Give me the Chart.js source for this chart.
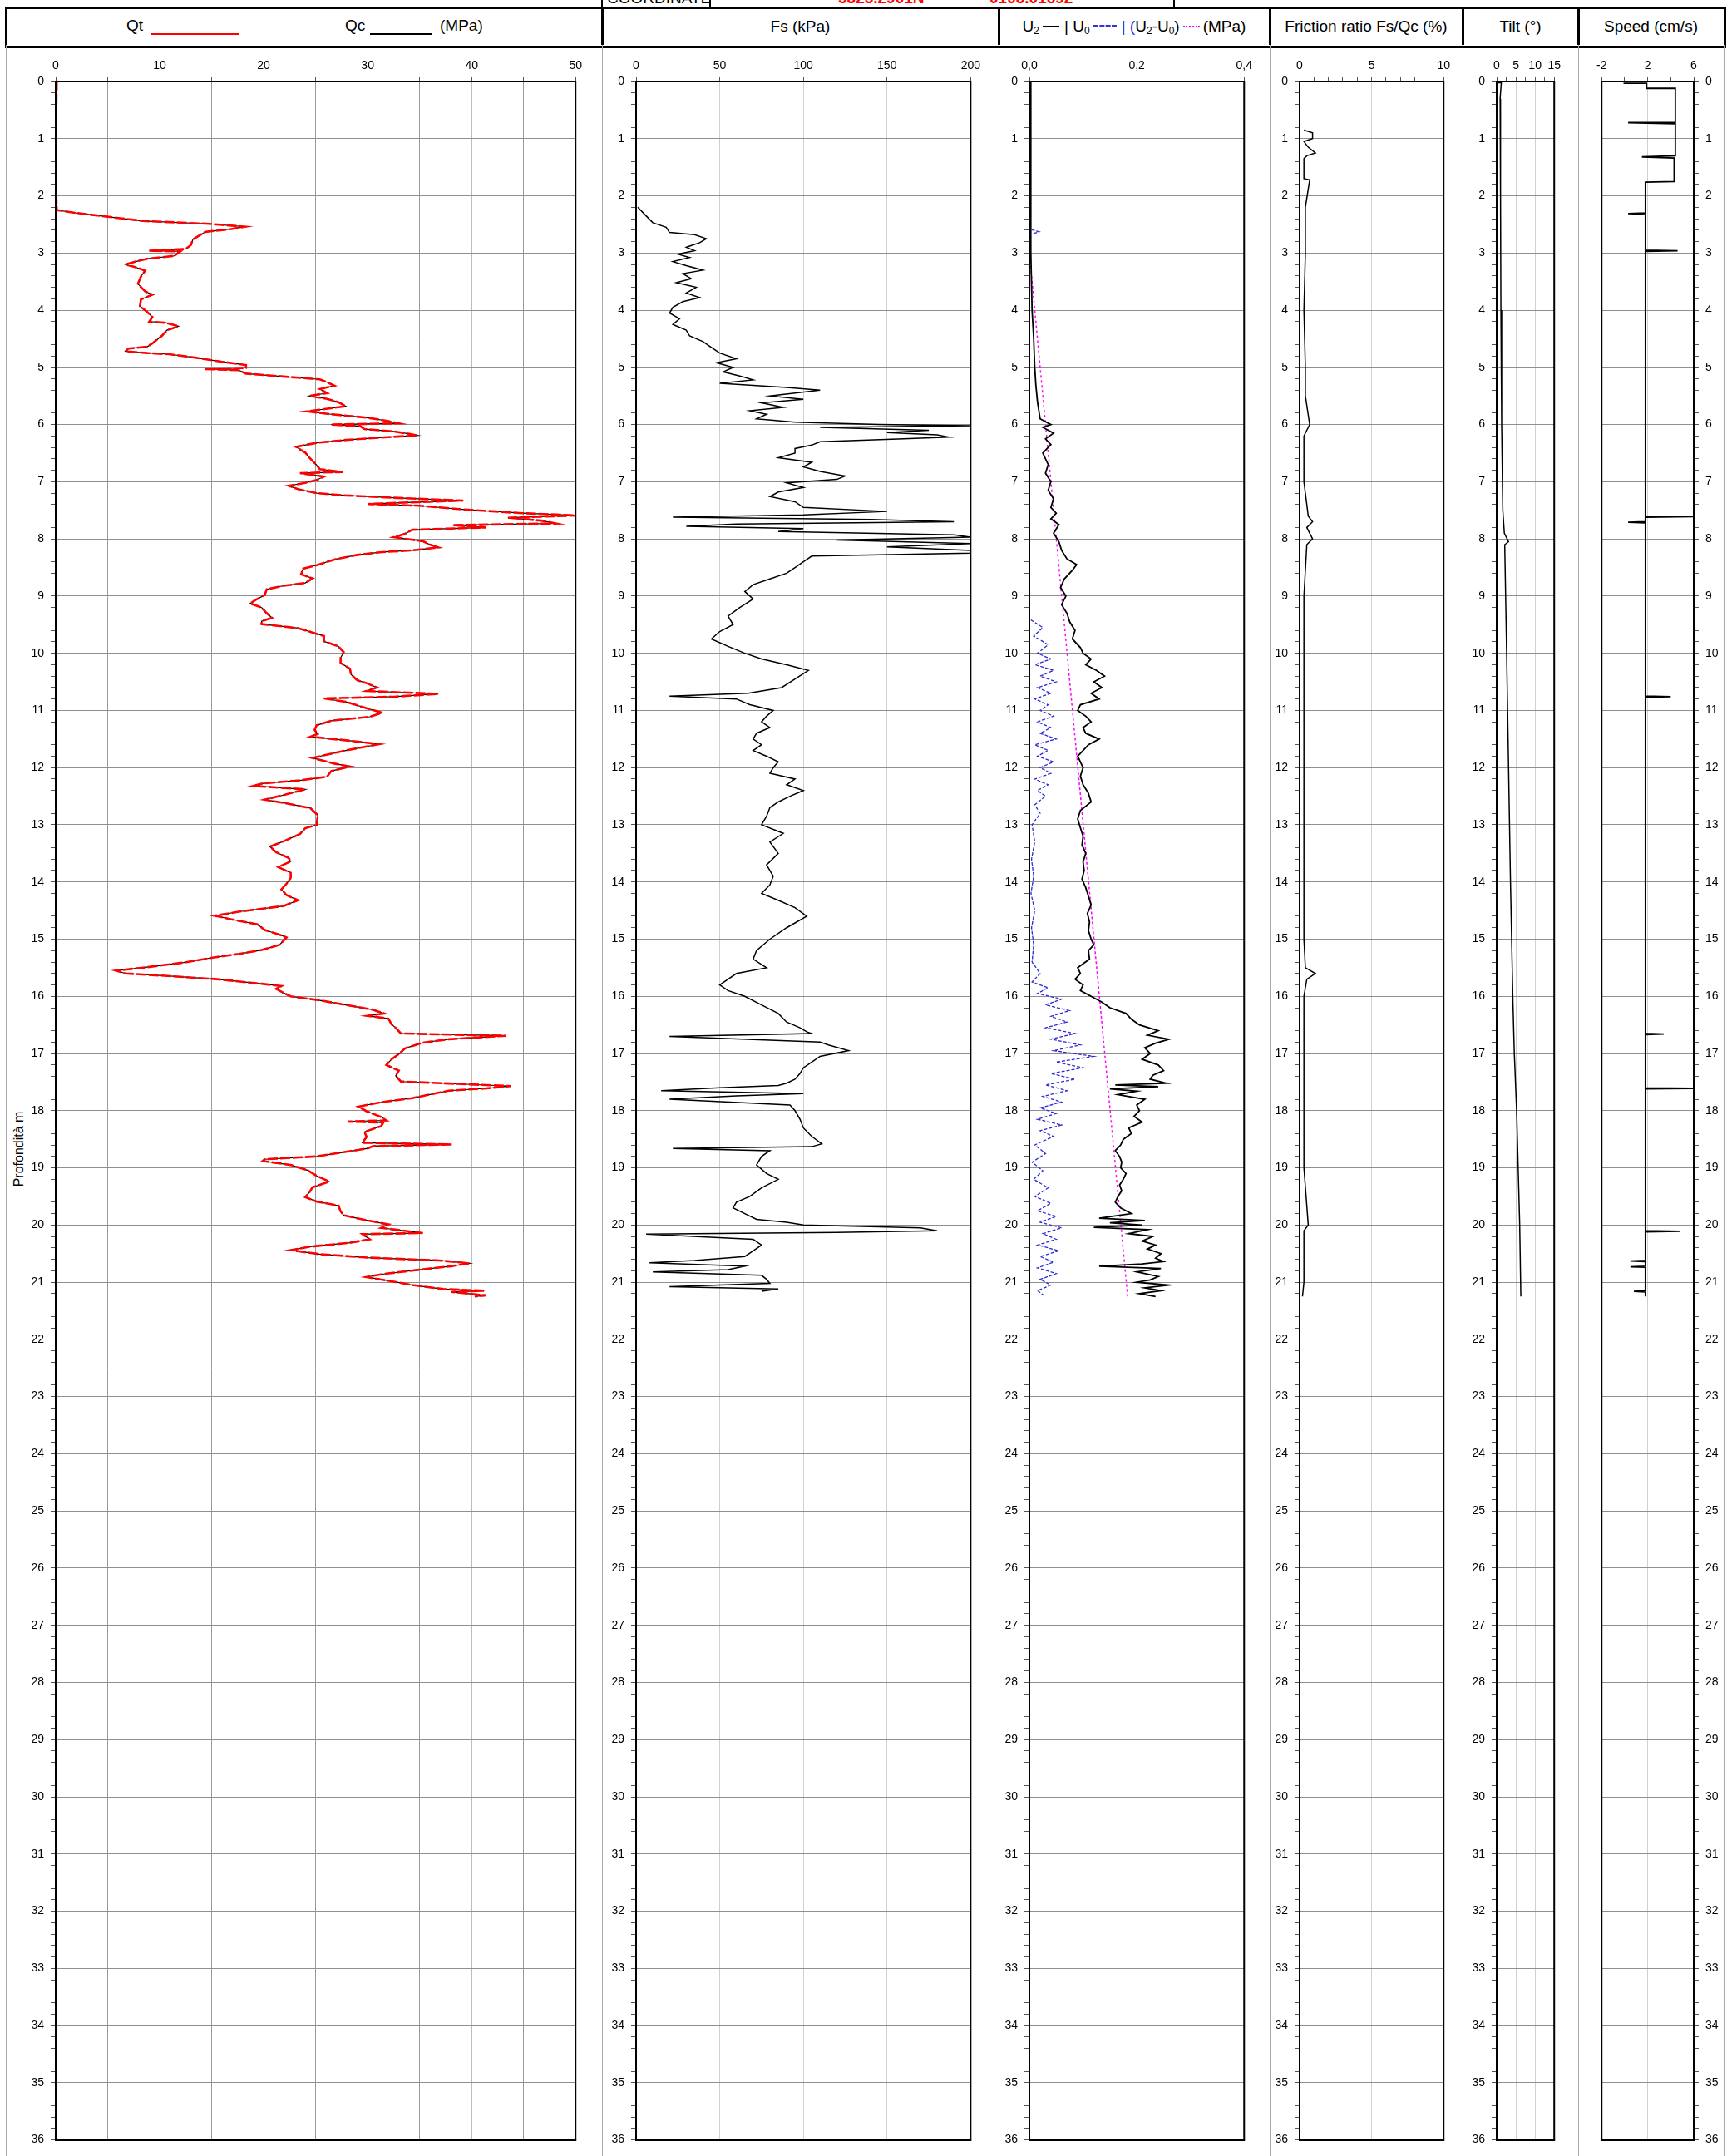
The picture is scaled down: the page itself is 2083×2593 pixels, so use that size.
<!DOCTYPE html>
<html>
<head>
<meta charset="utf-8">
<title>CPTU</title>
<script src="https://cdn.jsdelivr.net/npm/chart.js@4.4.1/dist/chart.umd.min.js"></script>
<style>
  html, body { margin: 0; padding: 0; background: #fff; }
  body { width: 2083px; height: 2593px; position: relative; overflow: hidden;
         font-family: "Liberation Sans", Arial, sans-serif; color: #000; }
  canvas { position: absolute; }
  .vline { position: absolute; width: 0; }
  .hcell { position: absolute; top: 9px; height: 45px; display: flex; align-items: center;
           justify-content: center; font-size: 19px; white-space: nowrap; }
  .txt { position: absolute; white-space: nowrap; font-size: 19px; line-height: 22px; }
  sub { font-size: 12px; vertical-align: -3px; line-height: 0; }
  .sw { display: inline-block; vertical-align: middle; margin: 0 6px 0 4px; }
</style>
</head>
<body>

<!-- title strip -->
<div class="txt" style="left:730px; top:-13px;">COORDINATE</div>
<div class="txt" style="left:1008px; top:-13px; color:#ff0000; font-weight:bold;">5325.2901N</div>
<div class="txt" style="left:1190px; top:-13px; color:#ff0000; font-weight:bold;">0103.01692</div>
<div class="vline" style="left:723px; top:0; height:9px; border-left:2px solid #000;"></div>
<div class="vline" style="left:853px; top:0; height:9px; border-left:2px solid #000;"></div>
<div class="vline" style="left:1411px; top:0; height:9px; border-left:2px solid #000;"></div>

<!-- header band -->
<div style="position:absolute; left:6px; top:8px; width:2064px; height:44px; border:3px solid #000;"></div>
<div class="vline" style="left:723px; top:9px; height:45px; border-left:3px solid #000;"></div>
<div class="vline" style="left:1200px; top:9px; height:45px; border-left:3px solid #000;"></div>
<div class="vline" style="left:1526px; top:9px; height:45px; border-left:3px solid #000;"></div>
<div class="vline" style="left:1758px; top:9px; height:45px; border-left:3px solid #000;"></div>
<div class="vline" style="left:1897px; top:9px; height:45px; border-left:3px solid #000;"></div>

<!-- panel separators -->
<div class="vline" style="left:7px; top:54px; height:2539px; border-left:1.5px solid #a8a8a8;"></div>
<div class="vline" style="left:724px; top:54px; height:2539px; border-left:1.5px solid #a8a8a8;"></div>
<div class="vline" style="left:1201px; top:54px; height:2539px; border-left:1.5px solid #a8a8a8;"></div>
<div class="vline" style="left:1527px; top:54px; height:2539px; border-left:1.5px solid #a8a8a8;"></div>
<div class="vline" style="left:1759px; top:54px; height:2539px; border-left:1.5px solid #a8a8a8;"></div>
<div class="vline" style="left:1898px; top:54px; height:2539px; border-left:1.5px solid #a8a8a8;"></div>
<div class="vline" style="left:2073px; top:54px; height:2539px; border-left:1.5px solid #a8a8a8;"></div>

<!-- column titles -->
<div class="txt" style="left:152px; top:20px;">Qt</div>
<div style="position:absolute; left:182px; top:40px; width:105px; height:0; border-top:2px solid #ff0000;"></div>
<div class="txt" style="left:415px; top:20px;">Qc</div>
<div style="position:absolute; left:445px; top:40px; width:74px; height:0; border-top:2px solid #000;"></div>
<div class="txt" style="left:529px; top:20px;">(MPa)</div>

<div class="hcell" style="left:724px; width:477px;">Fs (kPa)</div>
<div class="hcell" style="left:1201px; width:326px;">
  <span>U<sub>2</sub></span>
  <span class="sw" style="width:20px; border-top:2px solid #000;"></span>
  <span>| U<sub>0</sub></span>
  <span class="sw" style="width:28px; border-top:3px dashed #3333dd;"></span>
  <span style="color:#3333dd;">|&nbsp;(</span><span>U<sub>2</sub>-U<sub>0</sub>)</span>
  <span class="sw" style="width:20px; border-top:2px dotted #ff00ff; margin-right:4px;"></span>
  <span>(MPa)</span>
</div>
<div class="hcell" style="left:1527px; width:232px;">Friction ratio Fs/Qc (%)</div>
<div class="hcell" style="left:1759px; width:139px;">Tilt (°)</div>
<div class="hcell" style="left:1898px; width:175px;">Speed (cm/s)</div>

<div class="txt" style="left:23px; top:1382px; font-size:16px; transform:translate(-50%,-50%) rotate(-90deg); transform-origin:center;">Profondità m</div>

<canvas id="cQt"></canvas>
<canvas id="cFs"></canvas>
<canvas id="cU"></canvas>
<canvas id="cFr"></canvas>
<canvas id="cTilt"></canvas>
<canvas id="cSpeed"></canvas>

<script>
// ---- depth profile data (depth in m) ----

// Corrected cone resistance Qt and cone resistance Qc (MPa)
const qtDepth = [0.00,0.50,1.00,1.50,2.00,2.25,2.30,2.44,2.49,2.54,2.58,2.63,2.76,2.86,2.93,2.96,2.97,3.05,3.10,3.15,3.20,3.25,3.31,3.41,3.54,3.67,3.73,3.81,3.93,4.03,4.12,4.20,4.22,4.28,4.35,4.45,4.58,4.64,4.67,4.72,4.75,4.77,4.83,4.90,4.96,5.01,5.03,5.05,5.11,5.16,5.21,5.26,5.32,5.38,5.45,5.50,5.55,5.61,5.68,5.74,5.77,5.82,5.88,5.94,5.98,6.00,6.03,6.08,6.12,6.16,6.19,6.23,6.27,6.32,6.39,6.49,6.58,6.71,6.78,6.83,6.85,6.91,6.97,7.02,7.07,7.13,7.20,7.24,7.28,7.33,7.36,7.39,7.42,7.49,7.55,7.59,7.63,7.68,7.73,7.76,7.80,7.84,7.91,7.97,8.04,8.10,8.15,8.20,8.23,8.28,8.36,8.46,8.52,8.62,8.69,8.77,8.82,8.88,8.98,9.07,9.13,9.20,9.30,9.38,9.44,9.49,9.56,9.62,9.70,9.79,9.88,9.98,10.08,10.17,10.27,10.37,10.47,10.53,10.60,10.66,10.71,10.76,10.79,10.85,10.95,11.04,11.11,11.18,11.26,11.34,11.41,11.46,11.53,11.59,11.70,11.83,11.93,11.98,12.06,12.16,12.22,12.28,12.32,12.38,12.48,12.56,12.64,12.71,12.83,13.00,13.06,13.16,13.29,13.38,13.48,13.58,13.64,13.74,13.84,13.93,14.03,14.13,14.23,14.32,14.42,14.52,14.59,14.68,14.74,14.84,14.92,14.97,15.03,15.10,15.19,15.26,15.32,15.41,15.49,15.55,15.60,15.65,15.70,15.78,15.82,15.87,15.94,16.00,16.07,16.15,16.23,16.30,16.34,16.39,16.49,16.55,16.65,16.69,16.75,16.81,16.91,17.01,17.10,17.20,17.30,17.39,17.49,17.57,17.61,17.65,17.72,17.78,17.85,17.93,18.01,18.11,18.17,18.19,18.21,18.27,18.37,18.46,18.56,18.59,18.62,18.66,18.72,18.80,18.85,18.88,18.95,19.04,19.14,19.24,19.34,19.43,19.51,19.59,19.66,19.76,19.83,19.92,19.99,20.05,20.14,20.16,20.25,20.31,20.38,20.44,20.51,20.57,20.62,20.67,20.72,20.79,20.86,20.91,20.99,21.05,21.12,21.15,21.17,21.23,21.25];
const qtMPa   = [0.1,0.05,0.05,0.05,0.05,0.1,2.0,8.4,14.8,18.2,16.9,14.4,13.2,13.0,12.5,9.0,12.0,11.4,8.8,7.7,6.7,7.7,8.6,8.2,7.9,8.6,9.3,8.2,8.1,8.8,9.3,9.0,10.6,11.8,10.7,10.2,9.3,8.8,7.0,6.7,8.8,10.9,13.4,15.9,18.3,18.3,14.4,17.6,18.3,21.9,25.4,26.1,26.8,25.4,26.1,24.4,26.1,27.2,27.9,25.4,24.2,26.5,30.0,32.0,33.0,26.5,29.3,29.7,32.5,33.9,34.8,31.1,27.9,25.1,23.1,24.0,24.4,25.1,25.4,27.6,23.5,25.8,25.1,24.0,22.4,23.3,25.1,27.9,32.5,39.2,34.3,30.0,35.0,39.6,44.9,50.2,43.5,46.7,48.1,38.2,41.4,34.3,33.6,32.5,35.3,36.0,36.8,34.3,31.4,29.0,26.8,25.1,23.8,23.6,24.7,24.0,21.9,20.3,20.1,19.2,18.7,19.8,20.3,20.8,19.8,19.8,23.3,24.4,25.8,25.8,27.2,27.7,27.4,27.4,28.3,28.4,29.0,30.0,30.9,29.9,36.8,32.5,25.8,27.9,29.7,31.4,30.2,26.5,25.1,24.9,25.2,24.5,28.3,31.1,27.9,24.7,26.8,28.3,26.5,26.1,23.6,19.8,19.0,24.0,21.9,20.1,22.6,24.5,25.2,25.1,24.0,23.5,21.9,20.6,21.2,22.4,22.6,21.4,22.6,22.6,22.2,21.7,22.2,23.3,21.9,17.6,15.3,17.6,19.4,20.1,21.5,22.2,21.9,21.5,19.8,17.6,15.2,12.3,8.8,5.8,6.7,11.3,15.5,19.8,21.7,21.2,21.9,22.6,25.4,27.9,30.4,31.6,30.0,32.0,32.3,32.7,33.2,43.3,37.8,35.3,33.6,33.0,32.3,31.8,33.0,32.7,33.2,43.8,41.4,37.8,35.9,34.3,31.4,29.1,29.9,31.3,31.8,28.1,31.5,31.3,29.7,29.9,29.5,38.0,30.5,30.0,27.9,25.1,20.1,19.9,22.6,24.2,25.1,26.3,24.7,24.4,24.0,25.1,27.2,27.4,27.7,30.0,32.0,31.3,35.3,29.5,30.2,28.3,24.4,22.6,25.4,30.0,36.9,39.8,38.0,34.6,31.4,29.9,32.5,34.3,37.3,41.2,38.0,41.4,40.3];

// Sleeve friction Fs (kPa)
const fsDepth = [2.20,2.35,2.47,2.55,2.64,2.68,2.75,2.82,2.90,2.96,3.02,3.08,3.15,3.22,3.30,3.36,3.45,3.52,3.60,3.70,3.78,3.85,3.95,4.05,4.15,4.25,4.35,4.45,4.55,4.65,4.75,4.85,4.92,5.00,5.08,5.15,5.22,5.28,5.35,5.40,5.45,5.50,5.56,5.62,5.70,5.76,5.82,5.90,5.96,6.00,6.02,6.05,6.10,6.14,6.18,6.22,6.25,6.30,6.36,6.42,6.50,6.58,6.66,6.74,6.82,6.90,6.96,7.02,7.10,7.18,7.26,7.35,7.45,7.52,7.58,7.62,7.66,7.70,7.74,7.78,7.82,7.87,7.93,7.97,8.02,8.08,8.14,8.20,8.25,8.30,8.40,8.50,8.60,8.70,8.80,8.92,9.05,9.20,9.35,9.50,9.62,9.75,9.88,10.00,10.10,10.20,10.30,10.45,10.60,10.70,10.75,10.80,10.90,11.00,11.10,11.20,11.30,11.40,11.50,11.60,11.70,11.80,11.90,12.00,12.10,12.20,12.30,12.40,12.50,12.60,12.70,12.85,13.00,13.15,13.30,13.50,13.70,13.90,14.05,14.20,14.32,14.45,14.60,14.80,15.00,15.20,15.35,15.50,15.60,15.70,15.80,15.90,16.00,16.15,16.30,16.45,16.55,16.62,16.65,16.70,16.80,16.85,16.95,17.05,17.15,17.25,17.35,17.45,17.52,17.56,17.60,17.65,17.70,17.74,17.80,17.90,18.00,18.15,18.30,18.45,18.58,18.63,18.66,18.70,18.80,18.95,19.10,19.20,19.35,19.50,19.60,19.70,19.80,19.90,19.95,20.00,20.05,20.10,20.13,20.16,20.25,20.35,20.45,20.55,20.62,20.66,20.72,20.78,20.82,20.88,20.95,21.02,21.08,21.12,21.16,21.25];
const fsKPa   = [1,6,10,18,20,35,42,38,30,35,25,32,22,30,40,28,33,24,36,30,38,28,22,20,26,22,30,32,40,45,50,60,48,58,52,62,70,50,90,110,95,80,100,75,88,68,78,72,95,145,200,110,175,150,180,187,160,110,105,95,95,85,105,100,110,125,120,90,100,85,80,95,100,150,100,22,140,190,60,30,100,85,190,200,120,200,150,200,200,105,100,95,90,80,70,65,70,62,55,58,50,45,55,65,75,90,103,95,87,67,20,60,68,82,78,75,80,72,70,75,70,78,85,82,80,95,90,100,92,85,80,78,75,88,80,85,78,82,80,75,85,95,102,90,80,72,70,78,60,55,50,55,65,75,85,90,98,102,105,20,110,115,127,110,105,100,98,95,90,85,50,15,100,60,20,92,95,98,100,105,111,105,22,80,75,72,78,85,75,68,60,58,65,72,90,100,170,180,120,6,70,75,70,65,35,8,65,55,10,75,78,80,20,85,75];

// Pore pressure U2 (MPa)
const u2Depth = [0.00,2.00,2.60,3.00,4.00,4.50,5.00,5.30,5.60,5.90,6.00,6.05,6.15,6.25,6.35,6.50,6.70,6.85,7.00,7.15,7.30,7.45,7.55,7.65,7.75,7.90,8.05,8.20,8.35,8.45,8.55,8.70,8.85,9.00,9.15,9.30,9.45,9.60,9.75,9.90,10.00,10.10,10.20,10.30,10.40,10.50,10.60,10.70,10.80,10.90,11.00,11.10,11.20,11.30,11.40,11.50,11.60,11.70,11.80,11.90,12.00,12.15,12.30,12.45,12.60,12.75,12.90,13.05,13.20,13.35,13.50,13.65,13.80,13.95,14.10,14.25,14.40,14.55,14.70,14.85,15.00,15.10,15.20,15.35,15.50,15.60,15.70,15.80,15.90,16.00,16.10,16.20,16.30,16.40,16.50,16.60,16.68,16.75,16.82,16.90,17.00,17.10,17.20,17.30,17.38,17.45,17.52,17.55,17.58,17.62,17.66,17.72,17.80,17.90,18.00,18.10,18.20,18.30,18.40,18.50,18.60,18.70,18.80,18.90,19.00,19.10,19.20,19.30,19.40,19.50,19.60,19.70,19.80,19.88,19.92,19.96,20.00,20.04,20.08,20.15,20.20,20.28,20.35,20.42,20.50,20.58,20.64,20.68,20.72,20.76,20.82,20.90,20.96,21.00,21.05,21.10,21.15,21.20,21.25];
const u2MPa   = [0.002,0.002,0.003,0.003,0.005,0.008,0.010,0.012,0.015,0.020,0.040,0.025,0.045,0.030,0.040,0.025,0.035,0.030,0.040,0.035,0.045,0.040,0.050,0.040,0.055,0.045,0.055,0.060,0.070,0.088,0.080,0.065,0.058,0.068,0.060,0.070,0.075,0.085,0.080,0.095,0.100,0.115,0.105,0.125,0.140,0.120,0.135,0.115,0.130,0.095,0.090,0.105,0.115,0.100,0.105,0.130,0.110,0.100,0.090,0.095,0.100,0.095,0.100,0.110,0.115,0.095,0.090,0.095,0.100,0.098,0.105,0.100,0.102,0.098,0.105,0.110,0.115,0.108,0.112,0.110,0.115,0.120,0.110,0.112,0.090,0.095,0.085,0.100,0.095,0.115,0.135,0.150,0.180,0.190,0.205,0.240,0.220,0.260,0.235,0.215,0.225,0.210,0.240,0.250,0.230,0.225,0.255,0.160,0.240,0.150,0.200,0.165,0.215,0.200,0.205,0.195,0.210,0.185,0.190,0.175,0.170,0.160,0.168,0.172,0.170,0.180,0.175,0.168,0.172,0.165,0.160,0.170,0.190,0.130,0.215,0.150,0.210,0.120,0.220,0.185,0.230,0.210,0.235,0.220,0.245,0.235,0.250,0.210,0.130,0.245,0.200,0.240,0.225,0.200,0.260,0.215,0.245,0.205,0.235,0.200];

// Hydrostatic pore pressure U0 (MPa)
const u0Depth = [0.00,2.58,2.63,2.68,9.40,9.55,9.70,9.85,10.00,10.10,10.20,10.30,10.40,10.50,10.60,10.70,10.80,10.90,11.00,11.10,11.20,11.30,11.40,11.50,11.60,11.70,11.80,11.90,12.00,12.10,12.20,12.30,12.40,12.50,12.65,12.80,13.00,13.30,13.60,13.90,14.20,14.50,14.80,15.10,15.40,15.60,15.75,15.85,15.95,16.05,16.15,16.25,16.35,16.45,16.55,16.65,16.75,16.85,16.95,17.05,17.15,17.25,17.35,17.45,17.55,17.65,17.75,17.85,17.95,18.05,18.15,18.25,18.35,18.45,18.60,18.75,18.90,19.05,19.20,19.35,19.50,19.62,19.75,19.85,19.95,20.05,20.15,20.25,20.35,20.45,20.55,20.65,20.75,20.85,20.95,21.05,21.15,21.25];
const u0MPa   = [0.000,0.000,0.018,0.000,0.000,0.025,0.008,0.035,0.015,0.040,0.010,0.045,0.020,0.050,0.015,0.040,0.010,0.035,0.020,0.045,0.015,0.040,0.020,0.050,0.010,0.035,0.015,0.045,0.020,0.040,0.010,0.035,0.015,0.030,0.010,0.020,0.005,0.010,0.004,0.008,0.003,0.010,0.004,0.008,0.005,0.020,0.005,0.035,0.015,0.060,0.030,0.075,0.040,0.070,0.030,0.085,0.040,0.095,0.045,0.120,0.050,0.100,0.040,0.085,0.030,0.070,0.025,0.060,0.020,0.050,0.015,0.060,0.020,0.045,0.010,0.030,0.005,0.025,0.008,0.035,0.010,0.040,0.015,0.050,0.020,0.060,0.025,0.050,0.015,0.055,0.020,0.045,0.015,0.050,0.020,0.040,0.015,0.030];

// Excess pore pressure U2-U0 (MPa)
const duDepth = [0.00,3.00,21.25];
const duMPa   = [0.000,0.000,0.183];

// Friction ratio Fs/Qc (%)
const frDepth = [0.85,0.90,1.00,1.05,1.15,1.25,1.30,1.35,1.45,1.70,1.72,2.20,3.00,4.00,5.00,5.50,6.00,6.10,6.20,7.00,7.60,7.70,7.80,8.00,8.10,9.00,10.00,11.00,12.00,13.00,14.00,15.00,15.50,15.60,15.70,16.00,17.00,18.00,19.00,20.00,20.10,21.00,21.25];
const frPct   = [0.3,0.9,0.9,0.3,0.6,1.1,0.5,0.3,0.3,0.3,0.7,0.4,0.4,0.3,0.4,0.4,0.7,0.5,0.3,0.3,0.6,0.9,0.5,0.9,0.5,0.3,0.3,0.3,0.3,0.3,0.3,0.3,0.4,1.1,0.5,0.3,0.3,0.3,0.3,0.6,0.3,0.3,0.2];

// Tilt (degrees)
const tiltDepth = [0.02,0.02,0.30,2.00,4.00,6.00,7.50,7.90,8.05,8.10,10.00,12.00,14.00,16.00,17.00,18.00,19.00,20.00,21.25];
const tiltDeg   = [0.0,1.2,0.9,1.0,1.1,1.3,1.6,2.0,3.1,2.1,2.6,3.1,3.6,4.2,4.6,5.2,5.6,6.0,6.3];

// Penetration speed (cm/s)
const speedDepth = [0.03,0.03,0.12,0.12,0.70,0.72,0.72,0.74,1.30,1.32,1.34,1.75,1.76,2.30,2.31,2.32,2.95,2.96,2.97,7.60,7.61,7.62,7.70,7.71,7.72,10.75,10.76,10.77,16.65,16.66,16.67,17.60,17.61,17.62,20.10,20.11,20.12,20.62,20.63,20.64,20.72,20.73,20.74,21.15,21.16,21.17,21.25];
const speedCms   = [-0.1,1.9,1.9,4.4,4.4,4.4,0.3,4.4,4.4,1.5,4.3,4.3,1.8,1.8,0.3,1.8,1.8,4.6,1.8,1.8,6.0,1.8,1.8,0.3,1.8,1.8,4.0,1.8,1.8,3.4,1.8,1.8,6.0,1.8,1.8,4.8,1.8,1.8,0.5,1.8,1.8,0.5,1.8,1.8,0.8,1.8,1.8];

// ---- drawing ----
const FONT = "'Liberation Sans', Arial, sans-serif";
const PLOT_TOP = 98, PLOT_BOTTOM = 2582;
const AXIS_W = 52, AXIS_H = 44, PAD = 8;

const toPoints = (ys, xs) => ys.map((d, i) => ({ x: xs[i], y: d }));
const isWhole = v => Math.abs(v - Math.round(v)) < 1e-6;

// outline of the plotting box
const frameBox = {
  id: 'frameBox',
  afterDraw(chart) {
    const { ctx, chartArea: a } = chart;
    ctx.save();
    ctx.strokeStyle = '#000';
    ctx.lineWidth = 2;
    ctx.beginPath();
    ctx.moveTo(a.left, a.top); ctx.lineTo(a.right, a.top);
    ctx.moveTo(a.right, a.top); ctx.lineTo(a.right, a.bottom);
    ctx.moveTo(a.left, a.top); ctx.lineTo(a.left, a.bottom);
    ctx.stroke();
    ctx.lineWidth = 3;
    ctx.beginPath();
    ctx.moveTo(a.left - 1, a.bottom); ctx.lineTo(a.right + 1, a.bottom);
    ctx.stroke();
    ctx.restore();
  }
};

function panel(id, cfg) {
  const el = document.getElementById(id);
  const plotW = cfg.right - cfg.left;
  const plotH = PLOT_BOTTOM - PLOT_TOP;
  const w = plotW + AXIS_W + PAD;
  const h = plotH + AXIS_H + PAD;
  el.width = w; el.height = h;
  el.style.width = w + 'px'; el.style.height = h + 'px';
  el.style.top = (PLOT_TOP - AXIS_H) + 'px';
  el.style.left = (cfg.yRight ? cfg.left - PAD : cfg.left - AXIS_W) + 'px';

  return new Chart(el, {
    type: 'scatter',
    data: { datasets: cfg.datasets },
    options: {
      responsive: false,
      animation: false,
      devicePixelRatio: 1,
      layout: { padding: { left: cfg.yRight ? PAD : 0, right: cfg.yRight ? 0 : PAD, top: 0, bottom: PAD } },
      plugins: { legend: { display: false }, tooltip: { enabled: false } },
      elements: { point: { radius: 0 }, line: { tension: 0 } },
      scales: {
        x: {
          type: 'linear', position: 'top', min: cfg.xMin, max: cfg.xMax,
          afterFit: s => { s.height = AXIS_H; },
          ticks: {
            stepSize: cfg.xStep, autoSkip: false, maxRotation: 0, padding: 5,
            color: '#000', font: { family: FONT, size: 14 },
            callback: cfg.xLabel
          },
          grid: {
            drawTicks: true, tickLength: 5, tickColor: '#555', lineWidth: 1,
            color: cfg.xGrid
          },
          border: { display: true, color: '#000', width: 2 }
        },
        y: {
          type: 'linear', position: cfg.yRight ? 'right' : 'left', reverse: true, min: 0, max: 36,
          afterFit: s => { s.width = AXIS_W; },
          ticks: {
            stepSize: 0.2, autoSkip: false, padding: 8,
            color: '#000', font: { family: FONT, size: 14 },
            callback: v => isWhole(v) ? String(Math.round(v)) : ''
          },
          grid: {
            drawTicks: true, tickLength: 6, tickColor: '#555', lineWidth: 1,
            color: c => isWhole(c.tick.value) ? '#8f8f8f' : 'rgba(0,0,0,0)'
          },
          border: { display: true, color: '#000', width: 2 }
        }
      }
    },
    plugins: [frameBox]
  });
}

const line = (pts, color, width, dash) => ({
  data: pts, showLine: true, borderColor: color, backgroundColor: color,
  borderWidth: width, borderDash: dash || [], pointRadius: 0, fill: false
});

// Qt / Qc
panel('cQt', {
  left: 67, right: 697, xMin: 0, xMax: 50, xStep: 5,
  xLabel: v => (v % 10 === 0 ? String(v) : ''),
  xGrid: c => (c.tick.value === 0 ? 'rgba(0,0,0,0)' : (c.tick.value % 10 === 0 ? '#bdbdbd' : '#9a9a9a')),
  datasets: [
    line(toPoints(qtDepth, qtMPa), '#ff0000', 2.6, [12, 3]),
    line(toPoints(qtDepth, qtMPa), '#000', 1.2)
  ]
});

// Fs
panel('cFs', {
  left: 765, right: 1176, xMin: 0, xMax: 200, xStep: 50,
  xLabel: v => String(v),
  xGrid: c => (c.tick.value === 0 ? 'rgba(0,0,0,0)' : '#cfcfcf'),
  datasets: [ line(toPoints(fsDepth, fsKPa), '#000', 1.5) ]
});

// U2, U0, U2-U0
panel('cU', {
  left: 1238, right: 1503, xMin: 0, xMax: 0.4, xStep: 0.2,
  xLabel: v => v.toFixed(1).replace('.', ','),
  xGrid: c => (c.tick.value === 0 ? 'rgba(0,0,0,0)' : '#dcdcdc'),
  datasets: [
    line(toPoints(u0Depth, u0MPa), '#2b2bd6', 1.3, [4, 2]),
    line(toPoints(u2Depth, u2MPa), '#000', 1.8),
    line(toPoints(duDepth, duMPa), '#ff00ff', 1.5, [3, 3])
  ]
});

// Friction ratio
panel('cFr', {
  left: 1563, right: 1741, xMin: 0, xMax: 10, xStep: 1,
  xLabel: v => (v % 5 === 0 ? String(v) : ''),
  xGrid: c => (c.tick.value === 5 ? '#d0d0d0' : 'rgba(0,0,0,0)'),
  datasets: [ line(toPoints(frDepth, frPct), '#000', 1.5) ]
});

// Tilt
panel('cTilt', {
  left: 1800, right: 1874, xMin: 0, xMax: 15, xStep: 2.5,
  xLabel: v => (v % 5 === 0 ? String(v) : ''),
  xGrid: c => (c.tick.value === 5 || c.tick.value === 10 ? '#d0d0d0' : 'rgba(0,0,0,0)'),
  datasets: [ line(toPoints(tiltDepth, tiltDeg), '#000', 1.5) ]
});

// Speed
panel('cSpeed', {
  left: 1923, right: 2037, yRight: true, xMin: -2, xMax: 6, xStep: 2,
  xLabel: v => ((v + 2) % 4 === 0 ? String(v) : ''),
  xGrid: c => (c.tick.value === 2 ? '#d0d0d0' : 'rgba(0,0,0,0)'),
  datasets: [ line(toPoints(speedDepth, speedCms), '#000', 1.8) ]
});
</script>
</body>
</html>
